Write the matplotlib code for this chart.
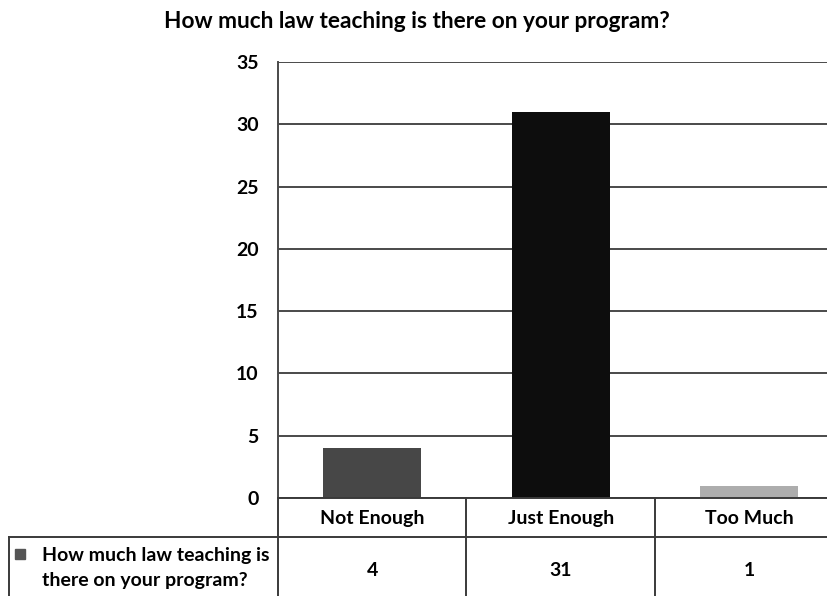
import matplotlib.pyplot as plt
from matplotlib.lines import Line2D

plt.rcParams['font.family'] = ['Lato', 'DejaVu Sans']
plt.rcParams['font.weight'] = 'bold'

categories = ['Not Enough', 'Just Enough', 'Too Much']
counts = [4, 31, 1]
bar_colors = ['#474747', '#0d0d0d', '#adadad']
series_name = 'How much law teaching is\nthere on your program?'
title = 'How much law teaching is there on your program?'

W, H = 828, 596
fig = plt.figure(figsize=(W / 100, H / 100), dpi=100)

def fx(px):
    return px / W

def fy(py):
    return 1 - py / H

# plot area: left edge at 278px, columns ~188px wide
left, top, bottom = 278, 62, 498
col_w = 188.5
ax = fig.add_axes([fx(left), fy(bottom), fx(col_w * 3), fy(top) - fy(bottom)])
x = range(len(categories))
ax.bar(x, counts, width=0.52, color=bar_colors, zorder=3)
ax.set_xlim(-0.5, 2.5)
ax.set_ylim(0, 35)
ax.set_yticks(range(0, 36, 5))
ax.yaxis.grid(True, color='#4a4a4a', linewidth=1.4)
ax.set_axisbelow(True)
ax.tick_params(axis='y', length=0, pad=14, labelsize=14)
ax.set_xticks([])
for lab in ax.get_yticklabels():
    lab.set_fontweight('bold')
for s in ['top', 'right', 'bottom']:
    ax.spines[s].set_visible(False)
ax.spines['left'].set_color('#4a4a4a')
ax.spines['left'].set_linewidth(1.4)
ax.spines['left'].set_zorder(4)

fig.text(fx(417), fy(21), title, ha='center', va='center',
         fontsize=16.3, fontweight='bold')

# data table under the plot
lc = '#3a3a3a'
row1, row2, row3 = 498, 537, 600

def hline(y, x0, x1):
    fig.add_artist(Line2D([fx(x0), fx(x1)], [fy(y), fy(y)], color=lc, lw=1.4))

def vline(xp, y0, y1):
    fig.add_artist(Line2D([fx(xp), fx(xp)], [fy(y0), fy(y1)], color=lc, lw=1.4))

hline(row1, left, W)
hline(row2, 9, W)
vline(9, row2, row3)
for i in range(len(categories)):
    vline(left + i * col_w, row1, row3)

for i, (cat, val) in enumerate(zip(categories, counts)):
    cx = left + (i + 0.5) * col_w
    fig.text(fx(cx), fy(524), cat, ha='center', va='baseline', fontsize=14,
             fontweight='bold')
    fig.text(fx(cx), fy(576), str(val), ha='center', va='baseline', fontsize=14,
             fontweight='bold')

fig.patches.append(plt.Rectangle((fx(15), fy(559)), fx(10), 10 / H,
                                 transform=fig.transFigure, color='#555555'))
fig.text(fx(42), fy(568), series_name, ha='left', va='center', fontsize=14,
         fontweight='bold', linespacing=1.55)

fig.savefig('out.png', dpi=100, facecolor='white')
